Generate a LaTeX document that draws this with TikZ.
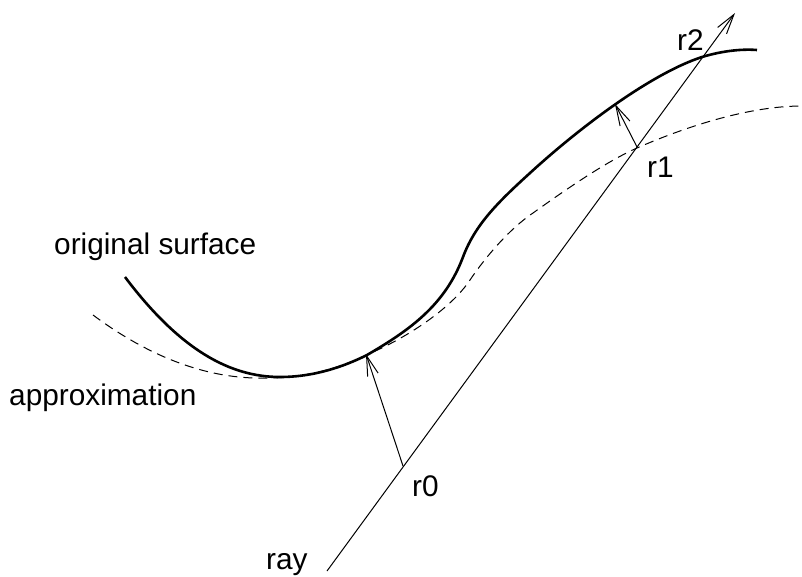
\documentclass[tikz,border=0pt]{standalone}
\usepackage{fontspec}
\setmainfont{Liberation Sans}
\usetikzlibrary{arrows.meta}
\begin{document}
\begin{tikzpicture}[x=1pt,y=-1pt,
  lbl/.style={anchor=base west, inner sep=0pt, font=\fontsize{29.8}{34}\selectfont},
  surf/.style={line width=2.6pt},
  approx/.style={line width=1pt, dash pattern=on 9pt off 6pt},
  rayline/.style={line width=1pt},
  tip/.style={-{Straight Barb[length=20pt,width=11pt]}}]
\useasboundingbox (0,0) rectangle (802,576);

% original surface
\draw[surf] (125,277) .. controls (180,350) and (230,377) .. (280,377)
  .. controls (315,377) and (345,366) .. (367,355)
  .. controls (410,330) and (445,305) .. (463,257)
  .. controls (475,225) and (497,203) .. (530,173)
  .. controls (578,129) and (650,74) .. (702,57)
  .. controls (725,50) and (745,49) .. (757,50);

% approximation
\draw[approx] (93,315) .. controls (140,350) and (200,380) .. (267,378)
  .. controls (310,378) and (345,366) .. (373,352)
  .. controls (405,338) and (450,310) .. (470,280)
  .. controls (480,265) and (505,232) .. (533,213)
  .. controls (561,193) and (605,162) .. (637,148)
  .. controls (669,134) and (740,106) .. (802,106);

% ray
\coordinate (rayS) at (327,571);
\coordinate (rayE) at (735,13);
\draw[rayline,tip] (rayS) -- (rayE);

% offset arrows
\coordinate (p0) at (403,466);
\coordinate (q0) at (366,354);
\draw[rayline,tip] (p0) -- (q0);
\coordinate (p1) at (637,147);
\coordinate (q1) at (615,104);
\draw[rayline,tip] (p1) -- (q1);

% labels
\node[lbl] (lorig) at (54,254) {original surface};
\node[lbl] (lapprox) at (9,405) {approximation};
\node[lbl] (lr0) at (412,496) {r0};
\node[lbl] (lr1) at (647,177) {r1};
\node[lbl] (lr2) at (677,50) {r2};
\node[lbl] (lray) at (266,569) {ray};
\end{tikzpicture}
\end{document}
